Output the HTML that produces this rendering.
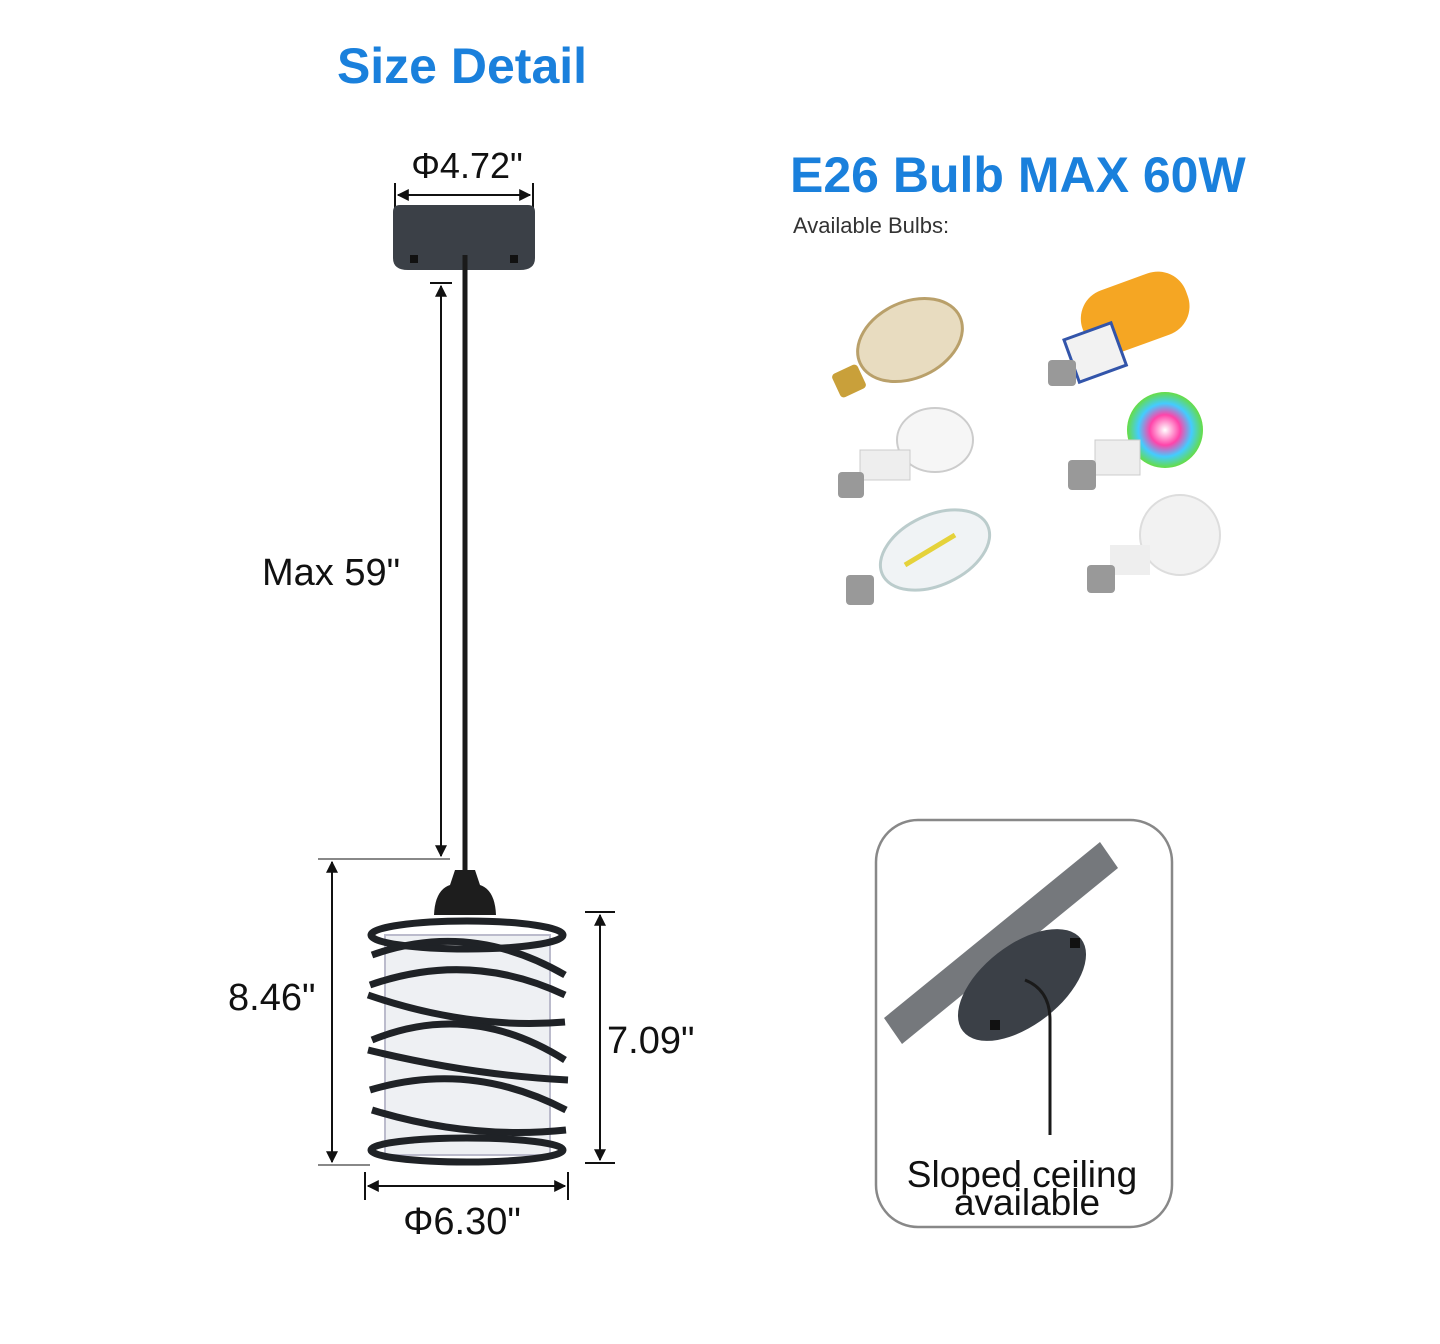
<!DOCTYPE html>
<html><head><meta charset="utf-8"><style>
body{margin:0;background:#fff;}
svg{display:block}
</style></head><body>
<svg width="1440" height="1344" viewBox="0 0 1440 1344" xmlns="http://www.w3.org/2000/svg" font-family="Liberation Sans, sans-serif">
<defs>
<marker id="a" viewBox="0 0 10 10" refX="9" refY="5" markerWidth="6" markerHeight="6" orient="auto-start-reverse"><path d="M0,0 L10,5 L0,10z" fill="#111"/></marker>
<radialGradient id="rb"><stop offset="0" stop-color="#fff"/><stop offset="0.4" stop-color="#f4a"/><stop offset="0.7" stop-color="#4cf"/><stop offset="1" stop-color="#6d4"/></radialGradient>
</defs>
<text x="462" y="83" text-anchor="middle" font-size="50" font-weight="bold" fill="#1a80dc">Size Detail</text>
<text x="790" y="192" font-size="50" font-weight="bold" fill="#1a80dc">E26 Bulb MAX 60W</text>
<text x="793" y="233" font-size="22" fill="#333">Available Bulbs:</text>

<line x1="395" y1="183" x2="395" y2="208" stroke="#111" stroke-width="2"/>
<line x1="533" y1="183" x2="533" y2="208" stroke="#111" stroke-width="2"/>
<line x1="398" y1="195" x2="530" y2="195" stroke="#111" stroke-width="2" marker-start="url(#a)" marker-end="url(#a)"/>
<text x="467" y="178" text-anchor="middle" font-size="36" fill="#111">Φ4.72"</text>
<path d="M393,212 Q393,205 400,205 L528,205 Q535,205 535,212 L535,258 Q535,270 520,270 L408,270 Q393,270 393,258Z" fill="#3b4047"/>
<rect x="410" y="255" width="8" height="8" fill="#111"/><rect x="510" y="255" width="8" height="8" fill="#111"/>
<line x1="465" y1="255" x2="465" y2="880" stroke="#1a1a1a" stroke-width="5"/>
<line x1="430" y1="283" x2="452" y2="283" stroke="#111" stroke-width="2"/>
<line x1="441" y1="286" x2="441" y2="856" stroke="#111" stroke-width="2" marker-start="url(#a)" marker-end="url(#a)"/>
<text x="262" y="585" font-size="38" fill="#111">Max 59"</text>
<line x1="318" y1="859" x2="450" y2="859" stroke="#888" stroke-width="2"/>
<line x1="318" y1="1165" x2="370" y2="1165" stroke="#888" stroke-width="2"/>
<line x1="332" y1="862" x2="332" y2="1162" stroke="#111" stroke-width="2" marker-start="url(#a)" marker-end="url(#a)"/>
<text x="228" y="1010" font-size="38" fill="#111">8.46"</text>
<line x1="585" y1="912" x2="615" y2="912" stroke="#111" stroke-width="2"/>
<line x1="585" y1="1163" x2="615" y2="1163" stroke="#111" stroke-width="2"/>
<line x1="600" y1="915" x2="600" y2="1160" stroke="#111" stroke-width="2" marker-start="url(#a)" marker-end="url(#a)"/>
<text x="607" y="1053" font-size="38" fill="#111">7.09"</text>
<line x1="365" y1="1172" x2="365" y2="1200" stroke="#111" stroke-width="2"/>
<line x1="568" y1="1172" x2="568" y2="1200" stroke="#111" stroke-width="2"/>
<line x1="368" y1="1186" x2="565" y2="1186" stroke="#111" stroke-width="2" marker-start="url(#a)" marker-end="url(#a)"/>
<text x="462" y="1234" text-anchor="middle" font-size="38" fill="#111">Φ6.30"</text>
<path d="M455,870 L475,870 L480,885 Q495,890 496,915 L434,915 Q435,890 450,885Z" fill="#1d1d1d"/>
<rect x="385" y="935" width="165" height="220" fill="#eef0f3" stroke="#bbc" stroke-width="2"/>
<g fill="none" stroke="#1f2226" stroke-width="7">
<ellipse cx="467" cy="935" rx="96" ry="14"/>
<path d="M372,955 Q470,920 565,975"/>
<path d="M370,985 Q470,950 565,995"/>
<path d="M368,995 Q470,1030 565,1022"/>
<path d="M372,1040 Q470,1000 565,1060"/>
<path d="M368,1050 Q470,1075 568,1080"/>
<path d="M370,1090 Q470,1060 566,1110"/>
<path d="M372,1110 Q470,1140 566,1130"/>
<ellipse cx="467" cy="1150" rx="96" ry="12"/>
</g>
<g>
<ellipse cx="910" cy="340" rx="55" ry="38" transform="rotate(-25 910 340)" fill="#e8dcc0" stroke="#b9a06a" stroke-width="3"/>
<rect x="835" y="368" width="28" height="26" rx="4" fill="#c9a03a" transform="rotate(-25 849 381)"/>
<rect x="1080" y="280" width="110" height="65" rx="30" fill="#f5a623" transform="rotate(-20 1135 312)"/>
<rect x="1070" y="330" width="50" height="45" fill="#f2f2f2" stroke="#3355aa" stroke-width="3" transform="rotate(-20 1095 352)"/>
<rect x="1048" y="360" width="28" height="26" rx="4" fill="#999"/>
<ellipse cx="935" cy="440" rx="38" ry="32" fill="#f6f6f6" stroke="#ccc" stroke-width="2"/>
<rect x="860" y="450" width="50" height="30" fill="#eee" stroke="#ccc"/>
<rect x="838" y="472" width="26" height="26" rx="4" fill="#999"/>
<circle cx="1165" cy="430" r="38" fill="url(#rb)"/>
<rect x="1095" y="440" width="45" height="35" fill="#eee" stroke="#ccc"/>
<rect x="1068" y="460" width="28" height="30" rx="4" fill="#999"/>
<ellipse cx="935" cy="550" rx="58" ry="35" transform="rotate(-25 935 550)" fill="#f0f3f5" stroke="#bcc" stroke-width="3"/>
<line x1="905" y1="565" x2="955" y2="535" stroke="#e5d23a" stroke-width="5"/>
<rect x="846" y="575" width="28" height="30" rx="4" fill="#999"/>
<circle cx="1180" cy="535" r="40" fill="#f2f2f2" stroke="#ddd" stroke-width="2"/>
<rect x="1110" y="545" width="40" height="30" fill="#eee"/>
<rect x="1087" y="565" width="28" height="28" rx="4" fill="#999"/>
</g>
<rect x="876" y="820" width="296" height="407" rx="42" fill="#fff" stroke="#888" stroke-width="2.5"/>
<polygon points="884,1018 1100,842 1118,868 902,1044" fill="#75787c"/>
<g transform="rotate(-38 1022 985)">
<ellipse cx="1022" cy="985" rx="75" ry="40" fill="#3b4047"/>
</g>
<rect x="1070" y="938" width="10" height="10" fill="#111"/><rect x="990" y="1020" width="10" height="10" fill="#111"/>
<path d="M1025,980 Q1050,990 1050,1020 L1050,1135" fill="none" stroke="#1a1a1a" stroke-width="3"/>
<text x="1022" y="1187" text-anchor="middle" font-size="37" fill="#111">Sloped ceiling</text>
<text x="1027" y="1215" text-anchor="middle" font-size="37" fill="#111">available</text>
</svg>
</body></html>
